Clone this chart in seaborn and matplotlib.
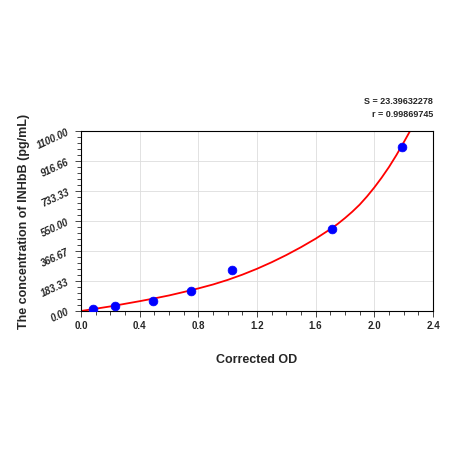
import matplotlib
matplotlib.use("Agg")
import matplotlib.pyplot as plt
import seaborn as sns
from matplotlib.ticker import MultipleLocator

od = [0.08, 0.23, 0.49, 0.75, 1.03, 1.71, 2.19]
conc = [15, 28, 62, 125, 250, 500, 1000]
curve_x = [0.0, 0.1, 0.2, 0.3, 0.4, 0.5, 0.6, 0.7, 0.8, 0.9, 1.0, 1.1, 1.2, 1.3, 1.4, 1.5, 1.6, 1.7, 1.75, 1.8, 1.85, 1.9, 1.95, 2.0, 2.05, 2.1, 2.15, 2.2, 2.25]
curve_y = [0, 14, 28, 44, 60, 77, 95, 116, 138, 162, 190, 222, 258, 298, 342, 390, 442, 500, 532, 568, 607, 650, 700, 755, 815, 880, 952, 1030, 1110]
yticks = [0.00, 183.33, 366.67, 550.00, 733.33, 916.66, 1100.00]
xticks = [0.0, 0.4, 0.8, 1.2, 1.6, 2.0, 2.4]

sns.set_style("white")
plt.rcParams['font.family'] = ['Liberation Sans', 'DejaVu Sans']
fig = plt.figure(figsize=(4.5, 4.5), dpi=100)
ax = fig.add_axes([81/450, 1-311/450, 352/450, 180/450])
sns.lineplot(x=curve_x, y=curve_y, ax=ax, color="red", lw=1.3)
sns.scatterplot(x=od, y=conc, ax=ax, color="blue", s=40, edgecolor="blue", zorder=5)
ax.set_xlim(0, 2.4)
ax.set_ylim(0, 1100)
ax.set_xticks(xticks)
ax.set_xticklabels([f"{v:.1f}" for v in xticks], fontsize=7, fontweight="bold")
ax.set_yticks(yticks)
ax.set_yticklabels([f"{v:.2f}" for v in yticks], fontsize=7, fontweight="bold", rotation=25, style="italic")
ax.xaxis.set_minor_locator(MultipleLocator(0.1))
ax.yaxis.set_minor_locator(MultipleLocator(1100/30))
ax.tick_params(which="both", direction="out", length=3, width=0.6, left=True, bottom=True)
ax.tick_params(which="major", length=4)
ax.grid(True, which="major", color="#dddddd", lw=0.6)
for s in ax.spines.values():
    s.set_linewidth(0.8); s.set_color("black")
ax.set_xlabel("Corrected OD", fontsize=9, fontweight="bold", labelpad=16)
ax.set_ylabel("The concentration of INHbB (pg/mL)", fontsize=9, fontweight="bold", labelpad=4)
fig.text(433/450, 1-104/450, "S = 23.39632278", ha="right", fontsize=6.5, fontweight="bold")
fig.text(433/450, 1-117/450, "r = 0.99869745", ha="right", fontsize=6.5, fontweight="bold")
fig.savefig("out.png", dpi=100)
